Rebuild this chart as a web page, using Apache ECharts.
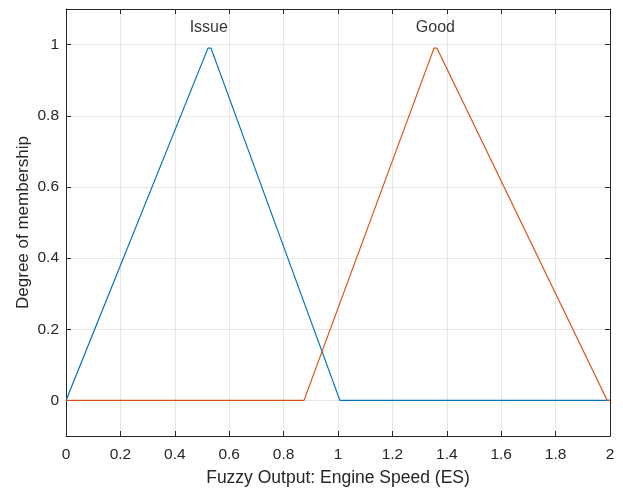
<!DOCTYPE html>
<html>
<head>
<meta charset="utf-8">
<script src="https://cdn.jsdelivr.net/npm/echarts@6/dist/echarts.min.js"></script>
<style>html,body{margin:0;padding:0;background:#fff}#c{width:623px;height:494px}</style>
</head>
<body>
<div id="c"></div>
<script>
// Membership function vertices
const issueX = [0, 0.522, 0.533, 1.007, 2];
const issueY = [0, 0.99, 0.99, 0, 0];
const goodX = [0, 0.875, 1.353, 1.364, 1.99, 2];
const goodY = [0, 0, 0.99, 0.99, 0, 0];
const mfNames = ['Issue', 'Good'];
const mfLabelX = [0.525, 1.358];
const mfLabelY = [1.047, 1.047];
const yTicks = [0, 0.2, 0.4, 0.6, 0.8, 1];

const font = '"Liberation Sans", Arial, Helvetica, sans-serif';
const ink = '#262626';
const chart = echarts.init(document.getElementById('c'), null, {renderer: 'canvas'});
const zip = (xs, ys) => xs.map((x, i) => [x, ys[i]]);

const baseX = {
  type: 'value', min: 0, max: 2, interval: 0.2,
  axisLine: {show: true, onZero: false, lineStyle: {color: ink, width: 1}},
  axisTick: {show: true, inside: true, length: 5, lineStyle: {color: ink}},
};
const baseY = {
  type: 'value', min: -0.1, max: 1.1,
  axisLine: {show: true, onZero: false, lineStyle: {color: ink, width: 1}},
  axisTick: {show: true, inside: true, length: 5, customValues: yTicks, lineStyle: {color: ink}},
};

chart.setOption({
  animation: false,
  backgroundColor: '#fff',
  grid: {left: 66, right: 13, top: 9, bottom: 58, containLabel: false},
  xAxis: [
    Object.assign({}, baseX, {
      position: 'bottom',
      name: 'Fuzzy Output: Engine Speed (ES)',
      nameLocation: 'middle', nameGap: 33, nameMoveOverlap: false,
      nameTextStyle: {fontFamily: font, fontSize: 17.5, color: ink},
      axisLabel: {show: true, margin: 11, fontFamily: font, fontSize: 15.5, color: ink,
        formatter: v => String(+v.toFixed(1))},
      splitLine: {show: true, lineStyle: {color: '#e6e6e6', width: 1}}
    }),
    Object.assign({}, baseX, {
      position: 'top',
      axisLabel: {show: false},
      splitLine: {show: false}
    })
  ],
  yAxis: [
    Object.assign({}, baseY, {
      position: 'left',
      name: 'Degree of membership',
      nameLocation: 'middle', nameGap: 34, nameRotate: 90, nameMoveOverlap: false,
      nameTextStyle: {fontFamily: font, fontSize: 17, color: ink},
      axisLabel: {show: true, margin: 7, fontFamily: font, fontSize: 15.5, color: ink,
        customValues: yTicks, formatter: v => String(+v.toFixed(1))},
      splitLine: {show: true, lineStyle: {color: '#e6e6e6', width: 1}}
    }),
    Object.assign({}, baseY, {
      position: 'right',
      axisLabel: {show: false},
      splitLine: {show: false}
    })
  ],
  series: [
    {
      name: mfNames[0], type: 'line', data: zip(issueX, issueY),
      showSymbol: false, symbol: 'none',
      lineStyle: {color: '#0072BD', width: 1.2}, itemStyle: {color: '#0072BD'}
    },
    {
      name: mfNames[1], type: 'line', data: zip(goodX, goodY),
      showSymbol: false, symbol: 'none',
      lineStyle: {color: '#D95319', width: 1.2}, itemStyle: {color: '#D95319'}
    },
    {
      type: 'scatter', symbolSize: 1, itemStyle: {color: 'rgba(0,0,0,0)'},
      data: mfNames.map((n, i) => [mfLabelX[i], mfLabelY[i], n]),
      label: {show: true, position: 'inside', formatter: p => p.data[2],
        fontFamily: font, fontSize: 16, color: '#000'},
      silent: true
    }
  ]
});
</script>
</body>
</html>
